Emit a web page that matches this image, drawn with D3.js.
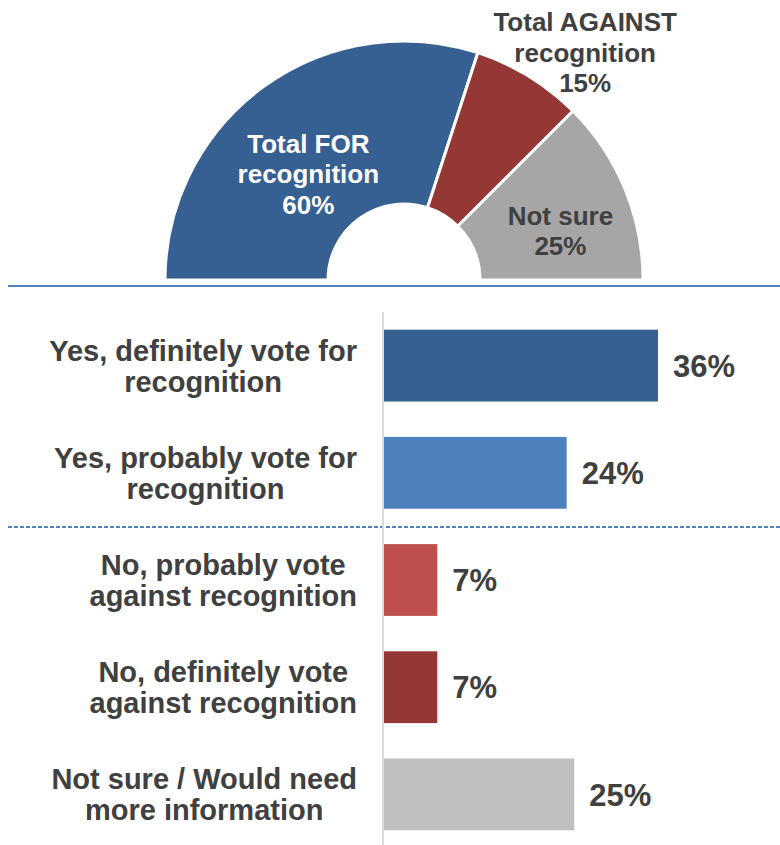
<!DOCTYPE html>
<meta charset="utf-8">
<style>
body { margin: 0; background: #fff; }
text { font-family: "Liberation Sans", Arial, sans-serif; font-weight: bold; fill: #404040; }
</style>
<head>
  <script src="https://d3js.org/d3.v7.min.js"></script>
</head>
<svg width="780" height="845"></svg>
<script>

// half donut: totals
var totalNames = ["Total FOR recognition", "Total AGAINST recognition", "Not sure"];
var totalLines = [["Total FOR", "recognition", "60%"], ["Total AGAINST", "recognition", "15%"], ["Not sure", "25%"]];
var totalValues = [60, 15, 25];
var totalColors = ["#366092", "#953735", "#a6a6a6"];

// bars: detailed answers
var categories = [
  "Yes, definitely vote for recognition",
  "Yes, probably vote for recognition",
  "No, probably vote against recognition",
  "No, definitely vote against recognition",
  "Not sure / Would need more information"
];
var categoryLines = [
  ["Yes, definitely vote for", "recognition"],
  ["Yes, probably vote for", "recognition"],
  ["No, probably vote", "against recognition"],
  ["No, definitely vote", "against recognition"],
  ["Not sure / Would need", "more information"]
];
var values = [36, 24, 7, 7, 25];
var barColors = ["#366092", "#4f81bd", "#c0504d", "#953735", "#bfbfbf"];

var svg = d3.select("svg");

var defs = svg.append("defs");
defs.append("filter").attr("id", "blur")
    .attr("x", "-5%").attr("y", "-200%").attr("width", "110%").attr("height", "500%")
  .append("feGaussianBlur").attr("stdDeviation", 2);

// ---- half donut ----
var cx = 404, cy = 280;
var pie = d3.pie().sort(null).startAngle(-Math.PI / 2).endAngle(Math.PI / 2);
var arc = d3.arc().innerRadius(76).outerRadius(239);
var arcs = pie(totalValues);

var donut = svg.append("g").attr("transform", "translate(" + cx + "," + cy + ")");

donut.selectAll("path")
  .data(arcs)
  .enter().append("path")
    .attr("d", arc)
    .attr("fill", function(d, i) { return totalColors[i]; })
    .attr("stroke", "#fff")
    .attr("stroke-width", 3)
    .attr("stroke-linejoin", "miter");

// where each slice label sits: radius and shift from slice middle (degrees)
var labelPlace = [[143, -6], [291, 7], [164, 5]];
var labelFill = ["#fff", "#404040", "#404040"];

arcs.forEach(function(d, i) {
  var a = (d.startAngle + d.endAngle) / 2 + labelPlace[i][1] * Math.PI / 180;
  var r = labelPlace[i][0];
  var lx = r * Math.sin(a), ly = -r * Math.cos(a);
  var lines = totalLines[i];
  var t = donut.append("text")
      .attr("text-anchor", "middle")
      .style("font-size", "26px")
      .style("fill", labelFill[i]);
  lines.forEach(function(line, j) {
    t.append("tspan")
      .attr("x", lx)
      .attr("y", ly + (j - (lines.length - 1) / 2) * 30.5 + 9.5)
      .text(line);
  });
});

// ---- separators ----
function separator(y, dashed) {
  svg.append("line")
    .attr("x1", 10).attr("x2", 780)
    .attr("y1", y + 4).attr("y2", y + 4)
    .attr("stroke", "#d0d0d0").attr("stroke-width", 4)
    .attr("filter", "url(#blur)");
  svg.append("line")
    .attr("x1", 8).attr("x2", 780)
    .attr("y1", y).attr("y2", y)
    .attr("stroke", "#4f81bd")
    .attr("stroke-width", 2)
    .attr("stroke-dasharray", dashed ? "4,2" : null);
}
separator(286, false);
separator(527, true);

// ---- bars ----
var y = d3.scaleBand().domain(categories).range([312, 848]).paddingInner(0.33).paddingOuter(0.165);
var x = d3.scaleLinear().domain([0, 36]).range([384, 658]);

svg.append("line")
  .attr("x1", 383).attr("x2", 383)
  .attr("y1", 312).attr("y2", 845)
  .attr("stroke", "#d9d9d9").attr("stroke-width", 2);

svg.selectAll(".bar")
  .data(categories)
  .enter().append("rect")
    .attr("class", "bar")
    .attr("x", x(0))
    .attr("y", function(d) { return y(d); })
    .attr("width", function(d, i) { return x(values[i]) - x(0); })
    .attr("height", y.bandwidth())
    .attr("fill", function(d, i) { return barColors[i]; });

svg.selectAll(".val")
  .data(categories)
  .enter().append("text")
    .attr("class", "val")
    .attr("x", function(d, i) { return x(values[i]) + 15; })
    .attr("y", function(d) { return y(d) + y.bandwidth() / 2; })
    .attr("dy", "0.36em")
    .style("font-size", "31px")
    .text(function(d, i) { return values[i] + "%"; });

// category labels: lines centred in a block whose right edge is fixed
var labelRight = 357;
categories.forEach(function(c, i) {
  var mid = y(c) + y.bandwidth() / 2;
  var lines = categoryLines[i];
  var g = svg.append("g");
  var ts = lines.map(function(line, j) {
    return g.append("text")
      .attr("text-anchor", "middle")
      .attr("y", mid + (j - (lines.length - 1) / 2) * 31 + 10.5)
      .style("font-size", "29px")
      .text(line);
  });
  var w = d3.max(ts, function(t) { return t.node().getComputedTextLength(); });
  ts.forEach(function(t) { t.attr("x", labelRight - w / 2); });
});

</script>
